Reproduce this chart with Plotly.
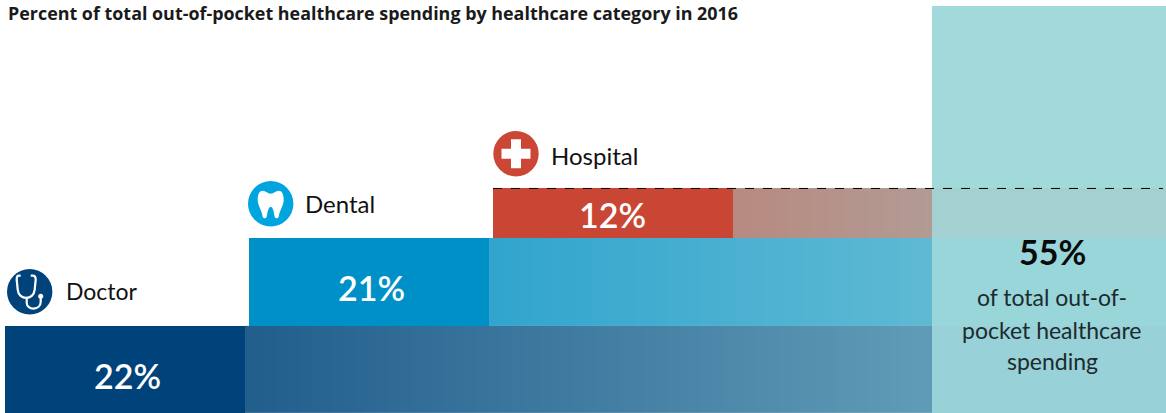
import plotly.graph_objects as go

# ---- data ----
categories = ["Doctor", "Dental", "Hospital"]
share_labels = ["22%", "21%", "12%"]
band_heights = [21.3, 21.5, 12.2]      # drawn height of each band, in percent units
teal_top_rest = [44.5]                 # teal column above the dashed total line
total_label = ["55%"]
total_lines = ["of total out-of-", "pocket healthcare", "spending"]
title_text = ["Percent of total out-of-pocket healthcare spending by healthcare category in 2016"]

# ---- styling and layout ----
W, H = 1166, 413
PX_PER_UNIT = 4.09
FONT = "Lato"
solid_colors = ["#00437a", "#0090c8", "#c94635"]
fade_scales = [["#235f8d", "#5f9ab6"], ["#32a5ce", "#5eb9d3"], ["#b78a80", "#b29b94"]]
teal_colors = ["#98d1d7", "#99d6da", "#a3d0d0", "#a2dadb"]
icon_colors = ["#00437a", "#00a5e0", "#cb4634"]
bar_lefts = [5, 249, 493]
fade_lefts = [245, 488, 733]
BAR_W = 240
TEAL_L, TEAL_R = 932, W
icon_centers = [(29.7, 291.7), (270.7, 203.7), (516, 153.7)]
ICON_R = 22.7
GRADIENT_STEPS = 24

def ux(px):
    return px / W
def uy(py):
    return 1 - py / H

def path(center, cmds):
    cx, cy = center
    out = []
    for c in cmds:
        if isinstance(c, str):
            out.append(c)
        else:
            out.append(f"{ux(cx + c[0]):.5f},{uy(cy + c[1]):.5f}")
    return " ".join(out)

fig = go.Figure()
bottoms = [sum(band_heights[:i]) for i in range(len(band_heights))]

# faded extensions: a colour ramp clipped to each band through brick edges
for i, h in enumerate(band_heights):
    left = fade_lefts[i]
    edges = [left + (TEAL_L - left) * k / GRADIENT_STEPS for k in range(GRADIENT_STEPS + 1)]
    row = list(range(GRADIENT_STEPS))
    fig.add_trace(go.Heatmap(
        x=edges, y=[bottoms[i], bottoms[i] + h / 2, bottoms[i] + h],
        z=[row, row], zsmooth="best", showscale=False, hoverinfo="skip",
        colorscale=[[0, fade_scales[i][0]], [1, fade_scales[i][1]]],
        zmin=0, zmax=GRADIENT_STEPS - 1))

# solid bands
for i, h in enumerate(band_heights):
    fig.add_trace(go.Bar(
        x=[bar_lefts[i] + BAR_W / 2], y=[h], base=[bottoms[i]], width=[BAR_W],
        marker=dict(color=solid_colors[i], line=dict(width=0)), name=categories[i]))

# teal total column
teal_heights = band_heights + teal_top_rest
teal_bottoms = [sum(teal_heights[:i]) for i in range(len(teal_heights))]
for i, h in enumerate(teal_heights):
    fig.add_trace(go.Bar(
        x=[(TEAL_L + TEAL_R) / 2], y=[h], base=[teal_bottoms[i]], width=[TEAL_R - TEAL_L],
        marker=dict(color=teal_colors[i], line=dict(width=0)), showlegend=False))

shapes = []
# dashed total line
total_y = sum(band_heights) - 0.1
shapes.append(dict(type="line", xref="x", yref="y", x0=bar_lefts[2], x1=W - 3, y0=total_y, y1=total_y,
                   line=dict(color="#000000", width=1, dash="9px,9px")))

# icons
for c, col in zip(icon_centers, icon_colors):
    cx, cy = c
    shapes.append(dict(type="circle", xref="paper", yref="paper", layer="above",
                       x0=ux(cx - ICON_R), x1=ux(cx + ICON_R), y0=uy(cy + ICON_R), y1=uy(cy - ICON_R),
                       fillcolor=col, line=dict(width=0)))

steth = ["M", (-9, -16), "L", (-11, -16), "C", (-13, -16), (-13, -14), (-13, -12), "L", (-12, -2),
         "C", (-11, 9), (4, 9), (5, -2), "L", (6, -12), "C", (6, -14), (5, -16), (3, -16), "L", (1, -16)]
steth2 = ["M", (-3, 6), "L", (-3, 11), "C", (-3, 19), (11, 19), (11, 10), "L", (11, 6)]
shapes.append(dict(type="path", xref="paper", yref="paper", layer="above",
                   path=path(icon_centers[0], steth), line=dict(color="white", width=2.2)))
shapes.append(dict(type="path", xref="paper", yref="paper", layer="above",
                   path=path(icon_centers[0], steth2), line=dict(color="white", width=2.2)))
cx, cy = icon_centers[0]
shapes.append(dict(type="circle", xref="paper", yref="paper", layer="above",
                   x0=ux(cx + 8.5), x1=ux(cx + 13.5), y0=uy(cy + 7), y1=uy(cy + 2),
                   fillcolor="white", line=dict(width=0)))

tooth = ["M", (0, -10), "C", (3, -10), (5, -13), (8, -13), "C", (12, -13), (13, -8), (13, -4),
         "C", (13, 2), (9, 6), (8, 13), "C", (7, 15), (5, 15), (4, 13),
         "C", (3, 9), (3, 4), (0, 3), "C", (-3, 4), (-3, 9), (-4, 13),
         "C", (-5, 15), (-7, 15), (-8, 13), "C", (-9, 6), (-13, 2), (-13, -4),
         "C", (-13, -8), (-12, -13), (-8, -13), "C", (-5, -13), (-3, -10), (0, -10), "Z"]
shapes.append(dict(type="path", xref="paper", yref="paper", layer="above",
                   path=path(icon_centers[1], tooth), fillcolor="white", line=dict(width=0)))

a, b = 14.5, 5
cross = ["M", (-b, -a), "L", (b, -a), "L", (b, -b), "L", (a, -b), "L", (a, b), "L", (b, b), "L", (b, a),
         "L", (-b, a), "L", (-b, b), "L", (-a, b), "L", (-a, -b), "L", (-b, -b), "Z"]
shapes.append(dict(type="path", xref="paper", yref="paper", layer="above",
                   path=path(icon_centers[2], cross), fillcolor="white", line=dict(width=0)))

# text
ann = []
def note(px, py, text, size, anchor="left", weight=400, color="#111111", family=FONT):
    ann.append(dict(xref="paper", yref="paper", x=ux(px), y=uy(py), text=text, showarrow=False,
                    xanchor=anchor, yanchor="middle", align="center",
                    font=dict(family=family, size=size, color=color, weight=weight)))

note(6, 13, title_text[0], 17.9, weight=700, color="#1a1a1a", family="Open Sans")
label_x = [64, 303, 549]
label_y = [291, 203, 156]
label_size = [23, 24, 24]
for i, name in enumerate(categories):
    note(label_x[i], label_y[i], name, label_size[i])
share_x = [127, 371, 612]
share_y = [375, 287, 214]
for i, lab in enumerate(share_labels):
    note(share_x[i], share_y[i], lab, 34, anchor="center", weight=600, color="white")
note(1052, 251, total_label[0], 34, anchor="center", weight=700, color="#0a0a0a")
line_y = [297, 329.5, 361]
for y, line in zip(line_y, total_lines):
    note(1052, y, line, 23, anchor="center", weight=400, color="#1c2b2e")

fig.update_layout(
    width=W, height=H, margin=dict(l=0, r=0, t=0, b=0), showlegend=False,
    barmode="overlay", bargap=0, plot_bgcolor="white", paper_bgcolor="white",
    xaxis=dict(range=[0, W], visible=False, fixedrange=True),
    yaxis=dict(range=[0, H / PX_PER_UNIT], visible=False, fixedrange=True),
    shapes=shapes, annotations=ann,
)
fig.write_html("out.html", config={"displayModeBar": False},
               post_script="document.body.style.margin='0';document.body.style.overflow='hidden';")
